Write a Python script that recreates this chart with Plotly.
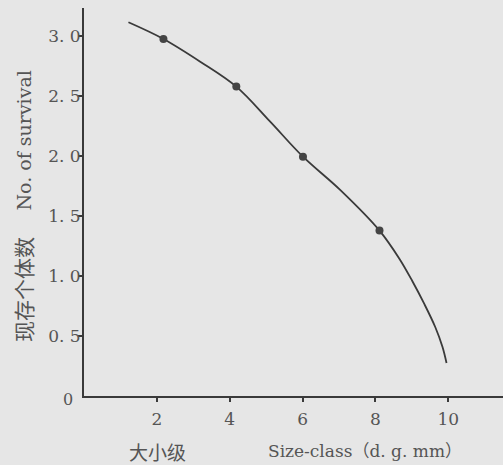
import plotly.graph_objects as go

# Data
curve_x = [1.22, 2.18, 3.19, 4.18, 5.11, 6.01, 7.03, 8.11, 8.66, 9.01, 9.34, 9.64, 9.84, 9.95]
curve_y = [3.114, 2.975, 2.786, 2.578, 2.286, 1.994, 1.717, 1.378, 1.142, 0.958, 0.767, 0.575, 0.408, 0.275]
point_x = [2.18, 4.18, 6.01, 8.11]
point_y = [2.975, 2.578, 1.994, 1.378]
x_ticks = [2, 4, 6, 8, 10]
x_ticklabels = ["2", "4", "6", "8", "10"]
y_ticks = [0.5, 1.0, 1.5, 2.0, 2.5, 3.0]
y_ticklabels = ["0. 5", "1. 0", "1. 5", "2. 0", "2. 5", "3. 0"]

BG = "#e6e6e6"
INK = "#3a3a3a"
TXT = "#555555"
SERIF = "DejaVu Serif, Liberation Serif, serif"
CJK = "Noto Sans CJK SC"

fig = go.Figure()
fig.add_trace(go.Scatter(x=curve_x, y=curve_y, mode="lines",
                         line=dict(color=INK, width=1.8, shape="spline", smoothing=1.0),
                         hoverinfo="skip", showlegend=False))
fig.add_trace(go.Scatter(x=point_x, y=point_y, mode="markers",
                         marker=dict(color="#444444", size=8),
                         showlegend=False))

fig.update_layout(
    width=503, height=465,
    margin=dict(l=84, r=0, t=8, b=69),
    paper_bgcolor=BG, plot_bgcolor=BG,
    xaxis=dict(range=[0, 11.5], showgrid=False, zeroline=False,
               showline=True, linecolor=INK, linewidth=2,
               ticks="outside", ticklen=4, tickwidth=1.5, tickcolor=INK,
               tickvals=x_ticks, ticktext=x_ticklabels,
               ticklabelstandoff=3,
               tickfont=dict(family=SERIF, size=17, color=TXT)),
    yaxis=dict(range=[0, 3.233], showgrid=False, zeroline=False,
               showline=True, linecolor=INK, linewidth=2,
               ticks="outside", ticklen=4, tickwidth=1.5, tickcolor=INK,
               tickvals=y_ticks, ticktext=y_ticklabels,
               ticklabelstandoff=-6,
               tickfont=dict(family=SERIF, size=17, color=TXT)),
    annotations=[
        dict(text="0", xref="paper", yref="paper", x=(68 - 84) / 419, y=(396 - 399) / 388,
             showarrow=False, font=dict(family=SERIF, size=16, color=TXT),
             xanchor="center", yanchor="middle"),
        dict(text="大小级", xref="paper", yref="paper", x=(157 - 84) / 419, y=-(451 - 396) / 388,
             showarrow=False, font=dict(family=CJK, size=19, color=TXT),
             xanchor="center", yanchor="middle"),
        dict(text="Size-class（d. g. mm）", xref="paper", yref="paper", x=(364.5 - 84) / 419,
             y=-(451 - 396) / 388,
             showarrow=False, font=dict(family=SERIF + ", " + CJK, size=17, color=TXT),
             xanchor="center", yanchor="middle"),
        dict(text="No. of survival", xref="paper", yref="paper", x=(23 - 84) / 419,
             y=(396 - 140.5) / 388, textangle=-90,
             showarrow=False, font=dict(family=SERIF, size=19, color=TXT),
             xanchor="center", yanchor="middle"),
        dict(text="现存个体数", xref="paper", yref="paper", x=(23 - 84) / 419,
             y=(396 - 290) / 388, textangle=-90,
             showarrow=False, font=dict(family=CJK, size=21, color=TXT),
             xanchor="center", yanchor="middle"),
    ],
)

fig.write_html("out.html", config={"displayModeBar": False},
               post_script="document.body.style.margin='0';document.body.style.background='%s';" % BG)
